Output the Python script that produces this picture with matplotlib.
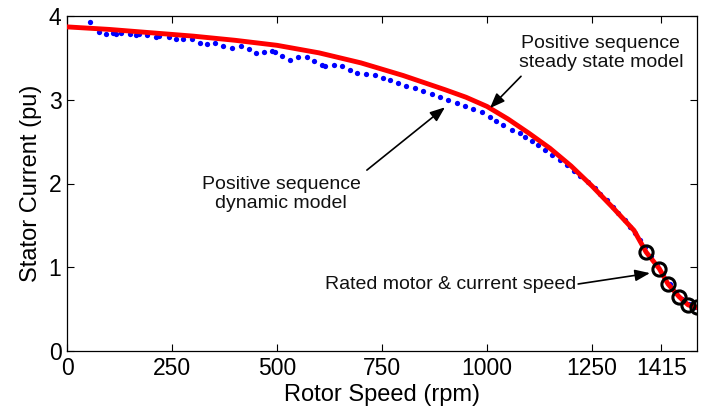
import numpy as np
import matplotlib
matplotlib.use('Agg')
import matplotlib.pyplot as plt

plt.rcParams['font.family'] = ['Liberation Sans', 'DejaVu Sans']

# steady state model (red line)
red_rpm = [0, 100, 200, 300, 400, 500, 600, 700, 800, 900, 950, 1000, 1050,
           1100, 1150, 1200, 1250, 1300, 1350, 1379, 1410, 1431, 1457, 1479,
           1500]
red_cur = [3.87, 3.84, 3.80, 3.76, 3.71, 3.65, 3.56, 3.44, 3.29, 3.12, 3.03,
           2.92, 2.77, 2.60, 2.42, 2.21, 1.97, 1.71, 1.44, 1.18, 0.985, 0.80,
           0.65, 0.55, 0.52]

# dynamic model (blue dots)
blue_rpm = [55, 77, 94, 110, 117, 129, 150, 164, 171, 191, 213, 218, 242, 260,
            277, 298, 317, 333, 353, 372, 393, 414, 433, 450, 469, 488, 496,
            513, 531, 550, 571, 588, 607, 615, 636, 655, 674, 691, 712, 733,
            753, 769, 789, 808, 828, 848, 868, 888, 908, 928, 947, 967, 987,
            1007, 1022, 1038, 1060, 1079, 1090, 1107, 1122, 1138, 1154, 1174,
            1190, 1206, 1222, 1240, 1257, 1269, 1285, 1300, 1312, 1329, 1340,
            1352, 1364, 1376, 1390, 1405, 1420, 1435, 1450, 1465, 1480, 1495]
blue_cur = [3.93, 3.81, 3.79, 3.80, 3.79, 3.80, 3.79, 3.77, 3.78, 3.77, 3.75,
            3.76, 3.75, 3.72, 3.72, 3.72, 3.68, 3.67, 3.68, 3.64, 3.62, 3.64,
            3.61, 3.56, 3.57, 3.58, 3.57, 3.52, 3.47, 3.51, 3.51, 3.46, 3.41,
            3.40, 3.42, 3.40, 3.36, 3.32, 3.31, 3.30, 3.26, 3.24, 3.20, 3.17,
            3.14, 3.11, 3.07, 3.03, 3.00, 2.96, 2.93, 2.89, 2.85, 2.80, 2.75,
            2.70, 2.64, 2.60, 2.56, 2.51, 2.46, 2.40, 2.34, 2.28, 2.22, 2.15,
            2.09, 2.02, 1.95, 1.88, 1.80, 1.72, 1.65, 1.56, 1.48, 1.41, 1.33,
            1.24, 1.14, 1.03, 0.92, 0.80, 0.70, 0.62, 0.56, 0.52]

# rated operating points (black circles)
rated_rpm = [1379, 1410, 1431, 1457, 1479, 1500]
rated_cur = [1.18, 0.985, 0.80, 0.65, 0.55, 0.52]

xticks = [0, 250, 500, 750, 1000, 1250, 1415]
yticks = [0, 1, 2, 3, 4]

fig = plt.figure(figsize=(7.02, 4.17), dpi=100)
ax = fig.add_axes([67/702, 1-351/417, 630/702, 335/417])

ax.plot(blue_rpm, blue_cur, 'o', color='#0000ff', ms=3.8, mew=0, zorder=2)
ax.plot(red_rpm, red_cur, '-', color='#ff0000', lw=3.5, zorder=3)
ax.plot(rated_rpm, rated_cur, 'o', mfc='none', mec='k', ms=9.5, mew=2.2, zorder=4)

ax.set_xlim(0, 1500)
ax.set_ylim(0, 4)
ax.set_xticks(xticks)
ax.set_yticks(yticks)
ax.tick_params(direction='in', top=True, right=True, length=5, labelsize=16.5,
               pad=4)
for s in ax.spines.values():
    s.set_linewidth(0.9)
ax.set_xlabel('Rotor Speed (rpm)', fontsize=17, labelpad=3)
ax.set_ylabel('Stator Current (pu)', fontsize=17, labelpad=5)

arrow = dict(arrowstyle='-|>,head_length=0.9,head_width=0.35', color='k',
             lw=1.2, shrinkA=0, shrinkB=0)
txt = dict(fontsize=14, ha='center', va='center', color='#111111',
           linespacing=1.15)

ax.text(1271, 3.56, 'Positive sequence\nsteady state model', **txt)
ax.annotate('', xy=(1007, 2.90), xytext=(1081, 3.28), arrowprops=arrow)

ax.text(510, 1.87, 'Positive sequence\ndynamic model', **txt)
ax.annotate('', xy=(900, 2.91), xytext=(714, 2.16), arrowprops=arrow)

ax.text(914, 0.79, 'Rated motor & current speed', **txt)
ax.annotate('', xy=(1388, 0.93), xytext=(1217, 0.80), arrowprops=arrow)

fig.savefig('out.png', dpi=100)
